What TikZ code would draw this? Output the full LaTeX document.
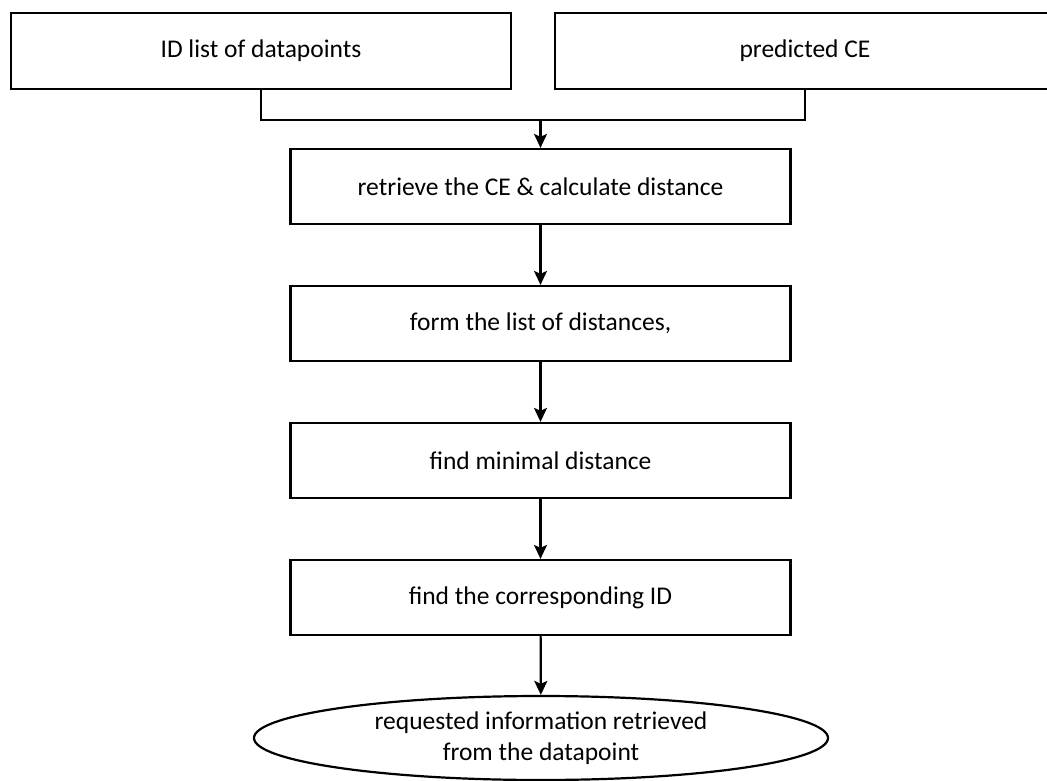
\documentclass[tikz,border=0pt]{standalone}
\usepackage{fontspec}
\setmainfont{Carlito}
\usetikzlibrary{arrows.meta,shapes.geometric}

\tikzset{
  stepbox/.style={draw, rectangle, line width=2.2pt, minimum width=500pt,
    minimum height=75pt, inner sep=0pt, font=\fontsize{25.5}{31}\selectfont},
  endoval/.style={draw, ellipse, line width=2.2pt, minimum width=574pt,
    minimum height=84pt, inner sep=0pt, align=center,
    font=\fontsize{25.5}{31}\selectfont},
  link/.style={line width=2.2pt},
  flow/.style={line width=2.2pt, -{Stealth[length=14pt,width=13pt,inset=3pt]}}
}

\begin{document}
\begin{tikzpicture}[x=1pt,y=-1pt]
  \useasboundingbox (0,0) rectangle (1047,781);

  % inputs
  \node[stepbox, minimum height=76pt] (ids) at (261,51) {ID list of datapoints};
  \node[stepbox, minimum height=76pt] (pce) at (805,51) {predicted CE};

  % processing steps
  \node[stepbox] (retr) at (540.5,186.5) {retrieve the CE \& calculate distance};
  \node[stepbox] (form) at (540.5,323.5) {form the list of distances,};
  \node[stepbox] (minl) at (540.5,460.5) {find minimal distance};
  \node[stepbox] (corr) at (540.5,597.5) {find the corresponding ID};

  % result
  \node[endoval] (res) at (541,738) {requested information retrieved\\from the datapoint};

  % merge of the two inputs
  \coordinate (jn) at (540.5,120);
  \draw[link] (ids.south) |- (jn) -| (pce.south);
  \draw[flow] (jn) -- (retr.north);

  \draw[flow] (retr) -- (form);
  \draw[flow] (form) -- (minl);
  \draw[flow] (minl) -- (corr);
  \draw[flow] (corr) -- (res);
\end{tikzpicture}
\end{document}
